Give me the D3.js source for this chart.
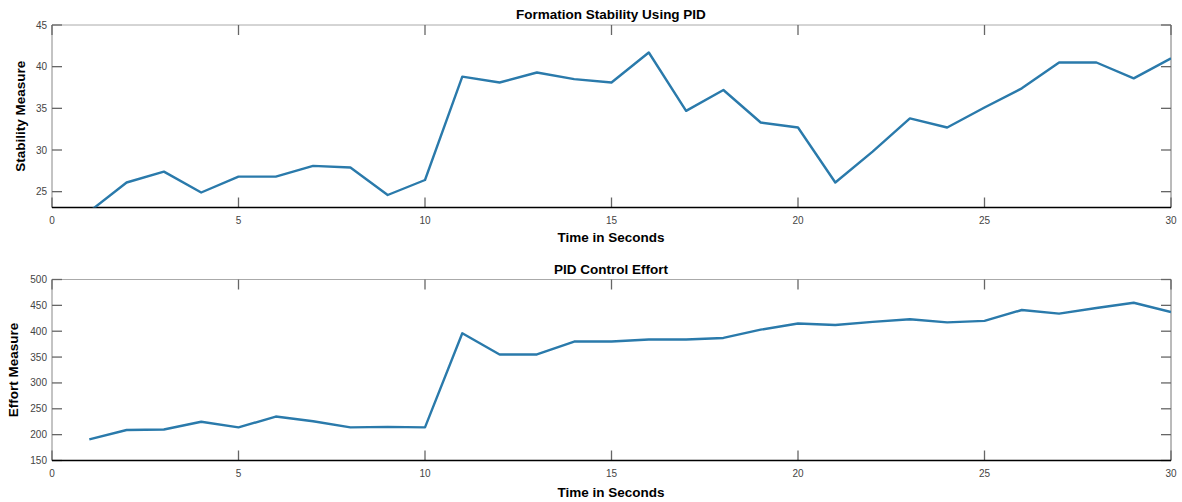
<!DOCTYPE html>
<html>
<head>
<meta charset="utf-8">
<script src="https://cdn.jsdelivr.net/npm/d3@7"></script>
<style>
  body { margin:0; background:#fff; }
  svg { display:block; font-family:"Liberation Sans", Arial, sans-serif; }
  .ticklbl { font-size:10px; fill:#444; }
  .ttl { font-size:13.5px; font-weight:bold; fill:#000; }
</style>
</head>
<body>
<svg id="chart" width="1182" height="502"></svg>
<script>
// time axis (seconds)
var time = d3.range(1, 31);
// formation stability with PID
var stability = [22.6, 26.1, 27.4, 24.9, 26.8, 26.8, 28.1, 27.9, 24.6, 26.4,
                 38.8, 38.1, 39.3, 38.5, 38.1, 41.7, 34.7, 37.2, 33.3, 32.7,
                 26.1, 29.8, 33.8, 32.7, 35.1, 37.4, 40.5, 40.5, 38.6, 41.0];
// PID control effort
var effort = [191, 209, 210, 225, 214, 235, 226, 214, 215, 214,
              396, 355, 355, 380, 380, 384, 384, 387, 403, 415,
              412, 418, 423, 417, 420, 441, 434, 445, 455, 437];
var xTicks = [0, 5, 10, 15, 20, 25, 30];
var stabTicks = [25, 30, 35, 40, 45];
var effortTicks = [150, 200, 250, 300, 350, 400, 450, 500];

var svg = d3.select("#chart");
var lineColor = "#2a7aab";

function drawPanel(cfg){
  var x = d3.scaleLinear().domain([0, 30]).range([52, 1171]);
  var y = d3.scaleLinear().domain(cfg.ydom).range([cfg.bottom, cfg.top]);
  var g = svg.append("g");
  var tick = 10;

  g.append("clipPath").attr("id", cfg.id + "-clip")
    .append("rect").attr("x", 52).attr("y", cfg.top).attr("width", 1171 - 52).attr("height", cfg.bottom - cfg.top);

  // box: top and right light, left grey, bottom black
  g.append("line").attr("x1", 52).attr("x2", 1171).attr("y1", cfg.top).attr("y2", cfg.top).attr("stroke", "#aaa");
  g.append("line").attr("x1", 1171).attr("x2", 1171).attr("y1", cfg.top).attr("y2", cfg.bottom).attr("stroke", "#777");
  g.append("line").attr("x1", 52).attr("x2", 52).attr("y1", cfg.top).attr("y2", cfg.bottom).attr("stroke", "#888");

  // x ticks, inward from bottom and top
  xTicks.forEach(function(t){
    g.append("line").attr("x1", x(t)).attr("x2", x(t)).attr("y1", cfg.bottom).attr("y2", cfg.bottom - tick).attr("stroke", "#666").attr("stroke-width", 1.3);
    g.append("line").attr("x1", x(t)).attr("x2", x(t)).attr("y1", cfg.top).attr("y2", cfg.top + tick).attr("stroke", "#666").attr("stroke-width", 1.3);
    g.append("text").attr("class", "ticklbl").attr("x", x(t)).attr("y", cfg.bottom + 16)
      .attr("text-anchor", "middle").text(t);
  });
  // y ticks, inward from left and right
  cfg.yticks.forEach(function(t){
    g.append("line").attr("x1", 52).attr("x2", 52 + tick).attr("y1", y(t)).attr("y2", y(t)).attr("stroke", "#666").attr("stroke-width", 1.3);
    g.append("line").attr("x1", 1171).attr("x2", 1171 - tick).attr("y1", y(t)).attr("y2", y(t)).attr("stroke", "#666").attr("stroke-width", 1.3);
    g.append("text").attr("class", "ticklbl").attr("x", 47).attr("y", y(t) + 3.5)
      .attr("text-anchor", "end").text(t);
  });

  g.append("line").attr("x1", 52).attr("x2", 1171).attr("y1", cfg.bottom).attr("y2", cfg.bottom).attr("stroke", "#000").attr("stroke-width", 1.5);

  var line = d3.line().x(function(d, i){ return x(time[i]); }).y(function(d){ return y(d); });
  g.append("path").datum(cfg.values)
    .attr("clip-path", "url(#" + cfg.id + "-clip)")
    .attr("d", line).attr("fill", "none").attr("stroke", lineColor).attr("stroke-width", 2.4)
    .attr("stroke-linejoin", "round");

  g.append("text").attr("class", "ttl").attr("x", 611).attr("y", cfg.top - 6)
    .attr("text-anchor", "middle").text(cfg.title);
  g.append("text").attr("class", "ttl").attr("x", 611).attr("y", cfg.xlabelY)
    .attr("text-anchor", "middle").text("Time in Seconds");
  g.append("text").attr("class", "ttl")
    .attr("transform", "translate(" + cfg.ylabelX + "," + ((cfg.top + cfg.bottom) / 2) + ") rotate(-90)")
    .attr("text-anchor", "middle").text(cfg.ylabel);
}

drawPanel({id: "stab", top: 25, bottom: 207.5, ydom: [23.1, 45], yticks: stabTicks, values: stability,
  title: "Formation Stability Using PID", ylabel: "Stability Measure", ylabelX: 25, xlabelY: 242});
drawPanel({id: "eff", top: 279.5, bottom: 460.5, ydom: [150, 500], yticks: effortTicks, values: effort,
  title: "PID Control Effort", ylabel: "Effort Measure", ylabelX: 18, xlabelY: 497});
</script>
</body>
</html>
